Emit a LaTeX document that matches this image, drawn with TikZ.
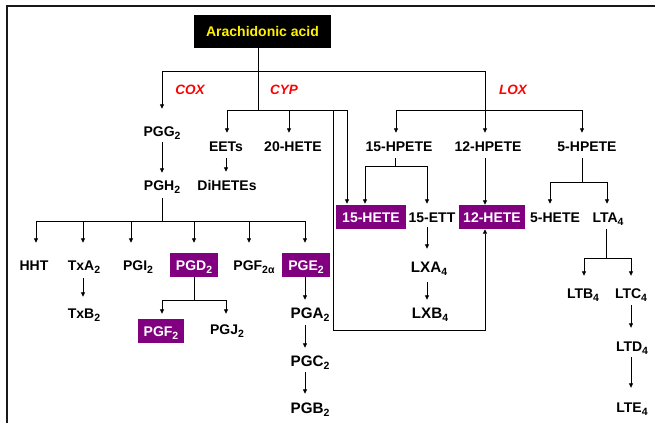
\documentclass[tikz,border=0pt]{standalone}
\usepackage{fontspec}
\setmainfont{Liberation Sans}
\usetikzlibrary{arrows.meta}
\definecolor{purp}{RGB}{128,0,128}
\newcommand{\ssub}[1]{\raisebox{-3pt}{\fontsize{10.5}{10.5}\selectfont #1}}
\begin{document}
\begin{tikzpicture}[x=1pt,y=-1pt,
 lbl/.style={font=\fontsize{14}{14}\selectfont\bfseries, inner sep=0pt, text height=10pt, text depth=0pt},
 lblb/.style={lbl, font=\fontsize{15.2}{15.2}\selectfont\bfseries},
 pbox/.style={lbl, fill=purp, text=white, inner xsep=6pt, inner ysep=7pt},
 enz/.style={font=\fontsize{13.5}{13.5}\selectfont\bfseries\itshape, text=red, inner sep=0pt},
 ln/.style={line width=0.8pt, black},
 arr/.style={ln, -{Triangle[length=4.5pt,width=4pt]}},
 frameline/.style={line width=2pt, black!90}]
\useasboundingbox (0,0) rectangle (660,423);
\draw[frameline] (7,423) -- (7,6) -- (655,6);

% nodes
\node[lbl, fill=black, text=yellow, inner xsep=12pt, inner ysep=11.5pt] (aa) at (262.5,31.5) {Arachidonic acid};
\node[enz] (cox) at (190,90) {COX};
\node[enz] (cyp) at (284,90) {CYP};
\node[enz] (lox) at (513,90) {LOX};

\node[lbl] (pgg2) at (162,131) {PGG\ssub{2}};
\node[lbl] (eets) at (226,146) {EETs};
\node[lbl] (hete20) at (293,146) {20-HETE};
\node[lbl] (dihetes) at (227,185) {DiHETEs};
\node[lbl] (pgh2) at (162,185) {PGH\ssub{2}};

\node[lbl] (hht) at (34,265) {HHT};
\node[lbl] (txa2) at (84,265) {TxA\ssub{2}};
\node[lbl] (pgi2) at (138,265) {PGI\ssub{2}};
\node[pbox] (pgd2) at (194,265) {PGD\ssub{2}};
\node[lbl] (pgf2a) at (254,265) {PGF\ssub{2α}};
\node[pbox] (pge2) at (306,265) {PGE\ssub{2}};
\node[lbl] (txb2) at (84,313) {TxB\ssub{2}};
\node[pbox] (pgf2) at (161,331) {PGF\ssub{2}};
\node[lbl] (pgj2) at (227,329) {PGJ\ssub{2}};
\node[lblb] (pga2) at (310,313) {PGA\ssub{2}};
\node[lblb] (pgc2) at (310,361) {PGC\ssub{2}};
\node[lblb] (pgb2) at (310,408) {PGB\ssub{2}};

\node[lbl] (hpete15) at (399,146) {15-HPETE};
\node[lbl] (hpete12) at (488,146) {12-HPETE};
\node[lbl] (hpete5) at (587,146) {5-HPETE};
\node[pbox] (hete15) at (371,217) {15-HETE};
\node[lbl] (ett15) at (432,217) {15-ETT};
\node[pbox, inner xsep=4pt] (hete12) at (492,217) {12-HETE};
\node[lbl] (hete5) at (555,217) {5-HETE};
\node[lbl] (lta4) at (608,217) {LTA\ssub{4}};
\node[lblb] (lxa4) at (429,267) {LXA\ssub{4}};
\node[lblb] (lxb4) at (430,313) {LXB\ssub{4}};
\node[lbl] (ltb4) at (583,293) {LTB\ssub{4}};
\node[lbl] (ltc4) at (631,293) {LTC\ssub{4}};
\node[lbl] (ltd4) at (632,346) {LTD\ssub{4}};
\node[lbl] (lte4) at (632,407) {LTE\ssub{4}};

% junction coordinates
\coordinate (jt) at (258,71);
\coordinate (jc) at (258,110);
\coordinate (cl) at (162,71);
\coordinate (cr) at (485,71);
\coordinate (yl) at (227,110);
\coordinate (ym) at (289,110);
\coordinate (yr) at (347,110);
\coordinate (lpt) at (333,110);
\coordinate (lpb) at (333,330);
\coordinate (lpr) at (485,330);
\coordinate (xl) at (396,110);
\coordinate (xr) at (582,110);
\coordinate (hb) at (162,221);
\coordinate (hb1) at (36,221);
\coordinate (hb2) at (83,221);
\coordinate (hb3) at (131,221);
\coordinate (hb4) at (194,221);
\coordinate (hb5) at (249,221);
\coordinate (hb6) at (305,221);
\coordinate (db) at (194,300);
\coordinate (dbl) at (162,300);
\coordinate (dbr) at (226,300);
\coordinate (pb) at (395,166);
\coordinate (pbl) at (365,166);
\coordinate (pbr) at (427,166);
\coordinate (fb) at (582,182);
\coordinate (fbl) at (550,182);
\coordinate (fbr) at (607,182);
\coordinate (tb) at (606,258);
\coordinate (tbl) at (584,258);
\coordinate (tbr) at (631,258);

% connectors
\draw[ln] (aa.south -| jt) -- (jc);
\draw[arr, shorten >=17pt] (jt) -- (cl) -- (cl |- pgg2.north);
\draw[arr, shorten >=8pt] (jt) -- (cr) -- (cr |- hpete12.north);

\draw[ln] (yl) -- (yr);
\draw[arr, shorten >=8pt] (yl) -- (yl |- eets.north);
\draw[arr, shorten >=8pt] (ym) -- (ym |- hete20.north);
\draw[arr, shorten >=1pt] (yr) -- (yr |- hete15.north);
\draw[arr] (lpt) -- (lpb) -- (lpr) -- (lpr |- hete12.south);

\draw[ln] (xl) -- (xr);
\draw[arr, shorten >=8pt] (xl) -- (xl |- hpete15.north);
\draw[arr, shorten >=8pt] (xr) -- (xr |- hpete5.north);

\draw[arr, shorten <=7pt, shorten >=8pt] (eets.south) -- (eets.south |- dihetes.north);
\draw[arr, shorten <=6pt, shorten >=7pt] (pgg2.south) -- (pgh2.north);

\draw[ln, shorten <=8pt] (pgh2.south) -- (hb);
\draw[ln] (hb1) -- (hb6);
\draw[arr, shorten >=17pt] (hb1) -- (hb1 |- hht.north);
\draw[arr, shorten >=17pt] (hb2) -- (hb2 |- txa2.north);
\draw[arr, shorten >=17pt] (hb3) -- (hb3 |- pgi2.north);
\draw[arr, shorten >=10pt] (hb4) -- (hb4 |- pgd2.north);
\draw[arr, shorten >=17pt] (hb5) -- (hb5 |- pgf2a.north);
\draw[arr, shorten >=10pt] (hb6) -- (hb6 |- pge2.north);

\draw[arr, shorten <=8pt, shorten >=11pt] (txa2.south -| hb2) -- (txb2.north -| hb2);

\draw[ln] (pgd2.south) -- (db);
\draw[ln] (dbl) -- (dbr);
\draw[arr, shorten >=5pt] (dbl) -- (dbl |- pgf2.north);
\draw[arr, shorten >=10pt] (dbr) -- (dbr |- pgj2.north);

\draw[arr, shorten >=8pt] (pge2.south -| hb6) -- (pga2.north -| hb6);
\draw[arr, shorten <=7pt, shorten >=8pt] (pga2.south -| hb6) -- (pgc2.north -| hb6);
\draw[arr, shorten <=6pt, shorten >=9pt] (pgc2.south -| hb6) -- (pgb2.north -| hb6);

\draw[ln, shorten <=7pt] (hpete15.south -| pb) -- (pb);
\draw[ln] (pbl) -- (pbr);
\draw[arr, shorten >=1pt] (pbl) -- (pbl |- hete15.north);
\draw[arr, shorten >=8pt] (pbr) -- (pbr |- ett15.north);

\draw[arr, shorten <=7pt] (hpete12.south -| cr) -- (hete12.north -| cr);

\draw[ln, shorten <=7pt] (hpete5.south -| fb) -- (fb);
\draw[ln] (fbl) -- (fbr);
\draw[arr, shorten >=8pt] (fbl) -- (fbl |- hete5.north);
\draw[arr, shorten >=8pt] (fbr) -- (fbr |- lta4.north);

\draw[arr, shorten <=5pt, shorten >=13pt] (ett15.south -| pbr) -- (lxa4.north -| pbr);
\draw[arr, shorten <=10pt, shorten >=8pt] (lxa4.south -| pbr) -- (lxb4.north -| pbr);

\draw[ln, shorten <=7pt] (lta4.south -| tb) -- (tb);
\draw[ln] (tbl) -- (tbr);
\draw[arr, shorten >=12pt] (tbl) -- (tbl |- ltb4.north);
\draw[arr, shorten >=12pt] (tbr) -- (tbr |- ltc4.north);
\draw[arr, shorten <=7pt, shorten >=13pt] (ltc4.south -| tbr) -- (ltd4.north -| tbr);
\draw[arr, shorten <=6pt, shorten >=14pt] (ltd4.south -| tbr) -- (lte4.north -| tbr);
\end{tikzpicture}
\end{document}
